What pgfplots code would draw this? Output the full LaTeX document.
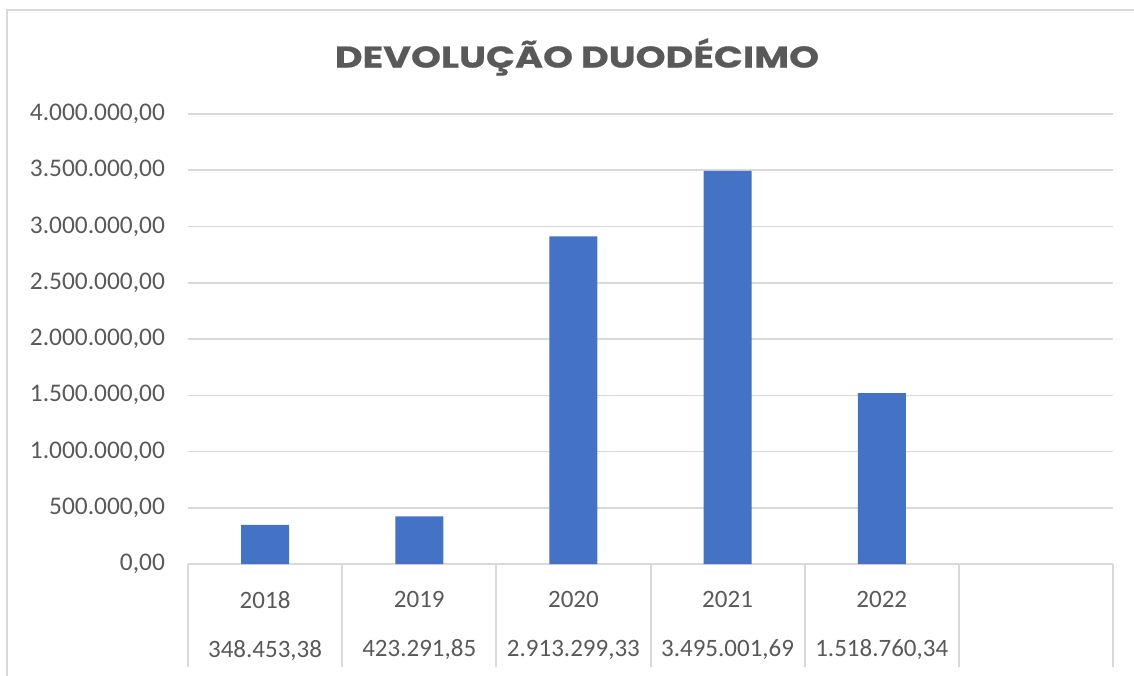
\documentclass[border=0pt]{standalone}
\usepackage{pgfplots}
\pgfplotsset{compat=1.18}
\usepackage{fontspec}
\setmainfont{Carlito}
\newfontfamily\titlefont{Poppins}[BoldFeatures={FakeStretch=1.27, FakeBold=0.6}]
\definecolor{barblue}{HTML}{4472C4}
\definecolor{txtgray}{HTML}{595959}
\definecolor{gridgray}{HTML}{D9D9D9}
\begin{document}
\begin{tikzpicture}
\begin{axis}[
  at={(0pt,0pt)}, anchor=south west,
  scale only axis, width=462.5pt, height=225pt,
  xmin=-0.5, xmax=5.5, ymin=0, ymax=4000000,
  separate axis lines,
  axis x line*=bottom, axis y line*=left,
  y axis line style={draw=none},
  x axis line style={gridgray, line width=1pt},
  scaled y ticks=false,
  clip=false,
  ytick={0,500000,1000000,1500000,2000000,2500000,3000000,3500000,4000000},
  yticklabels={{0,00},{500.000,00},{1.000.000,00},{1.500.000,00},{2.000.000,00},{2.500.000,00},{3.000.000,00},{3.500.000,00},{4.000.000,00}},
  ymajorgrids, grid style={gridgray, line width=0.75pt},
  ytick style={draw=none},
  yticklabel style={font=\fontsize{12.7}{15}\selectfont, text=txtgray, xshift=-8pt},
  xtick={0,1,2,3,4},
  xticklabels={{2018\\348.453,38},{2019\\423.291,85},{2020\\2.913.299,33},{2021\\3.495.001,69},{2022\\1.518.760,34}},
  xtick style={draw=none},
  xticklabel style={font=\fontsize{12.5}{24.5}\selectfont, text=txtgray, align=center, anchor=north, yshift=-10pt},
]
\addplot[ybar, bar width=24pt, fill=barblue, draw=none] coordinates {(0,348453.38) (1,423291.85) (2,2913299.33) (3,3495001.69) (4,1518760.34)};
\pgfplotsinvokeforeach{-0.5,0.5,1.5,2.5,3.5,4.5,5.5}{
  \draw[gridgray, line width=1pt] (axis cs:#1,0) -- ++(0pt,-51.5pt);
}
\end{axis}
\node[font=\titlefont\bfseries\fontsize{15}{18}\selectfont, text=txtgray] at (194.5pt,253.5pt) {DEVOLUÇÃO DUODÉCIMO};
\draw[gridgray, line width=1pt] (-90.5pt,-56pt) -- (-90.5pt,277pt) -- (474pt,277pt);
\pgfresetboundingbox
\useasboundingbox (-94pt,-55.5pt) rectangle (473pt,282pt);
\end{tikzpicture}
\end{document}
